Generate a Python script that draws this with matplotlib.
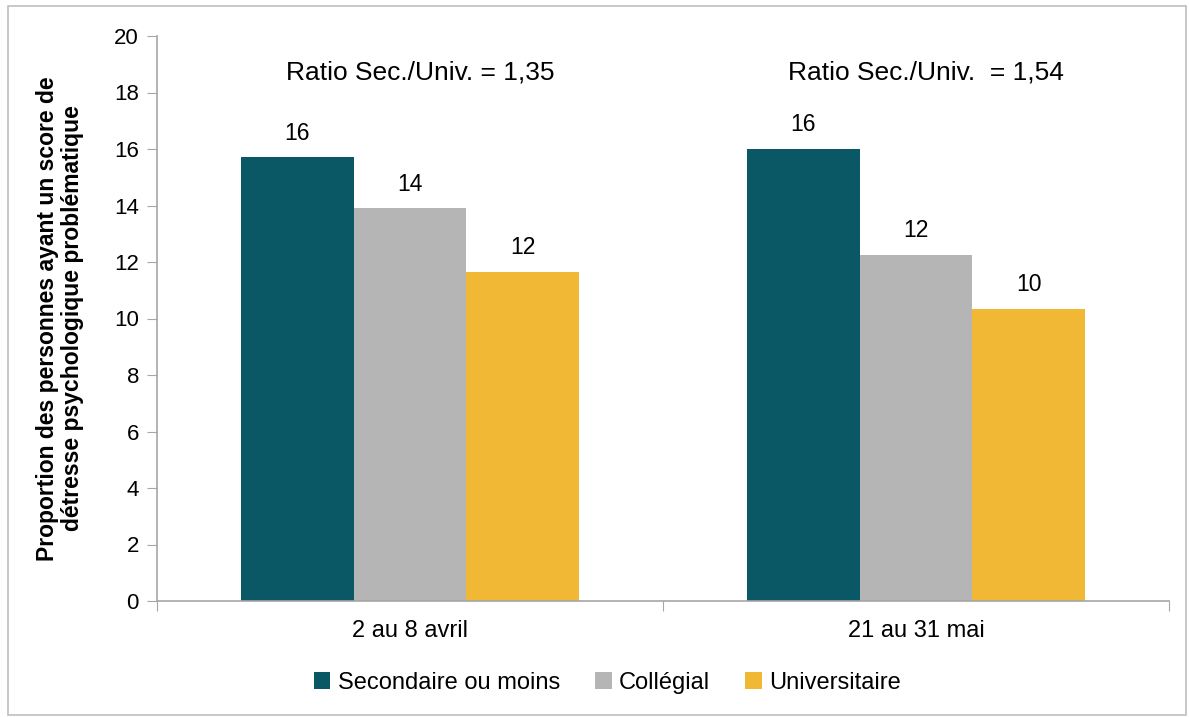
import numpy as np
import matplotlib.pyplot as plt
from matplotlib.patches import Rectangle

plt.rcParams['font.family'] = ['Liberation Sans', 'DejaVu Sans']

periodes = ["2 au 8 avril", "21 au 31 mai"]
niveaux = ["Secondaire ou moins", "Collégial", "Universitaire"]
secondaire = [15.7, 16.0]
collegial = [13.9, 12.25]
universitaire = [11.65, 10.35]
etiquettes = [["16", "16"], ["14", "12"], ["12", "10"]]
ratios = ["Ratio Sec./Univ. = 1,35", "Ratio Sec./Univ.  = 1,54"]
couleurs = ["#0a5866", "#b5b5b5", "#f1b836"]

fig = plt.figure(figsize=(11.89, 7.17), dpi=100)
ax = fig.add_axes([157 / 1189, 1 - 601 / 717, (1169 - 157) / 1189, (601 - 36) / 717])

# cadre gris autour du graphique
fig.patches.append(Rectangle((8 / 1189, 2 / 717), 1178 / 1189, 709 / 717,
                             transform=fig.transFigure, fill=False,
                             edgecolor="#bfbfbf", linewidth=1.2))

x = np.arange(len(periodes))
w = 0.2225
series = [secondaire, collegial, universitaire]
for i, vals in enumerate(series):
    pos = x + (i - 1) * w
    ax.bar(pos, vals, width=w, color=couleurs[i], label=niveaux[i])
    for p, v, t in zip(pos, vals, etiquettes[i]):
        ax.text(p, v + 0.45, t, ha="center", va="bottom", fontsize=16.5)

for xi, r in zip(x, ratios):
    ax.text(xi + 0.02, 18.72, r, ha="center", va="center", fontsize=19)

ax.set_xlim(-0.5, 1.5)
ax.set_ylim(0, 20)
ax.set_yticks(range(0, 21, 2))
ax.set_xticks([-0.5, 0.5, 1.5], minor=False)
ax.set_xticklabels(["", "", ""])
ax.set_xticks(x, minor=True)
ax.set_xticklabels(periodes, minor=True, fontsize=17)
ax.tick_params(axis="x", which="minor", length=0, pad=14)
ax.tick_params(axis="x", which="major", length=7, color="#a6a6a6")
ax.tick_params(axis="y", length=7, color="#a6a6a6", labelsize=16, pad=6)

for s in ["top", "right"]:
    ax.spines[s].set_visible(False)
for s in ["left", "bottom"]:
    ax.spines[s].set_color("#a6a6a6")
    ax.spines[s].set_linewidth(1.2)

ax.set_ylabel("Proportion des personnes ayant un score de\ndétresse psychologique problématique",
              fontsize=16.5, fontweight="bold", labelpad=22, linespacing=1.1)

ax.legend(loc="center", bbox_to_anchor=(0.445, -0.145), ncol=3, frameon=False,
          fontsize=17, handlelength=0.7, handleheight=0.7, handletextpad=0.3,
          columnspacing=1.5)

fig.savefig("out.png", dpi=100)
